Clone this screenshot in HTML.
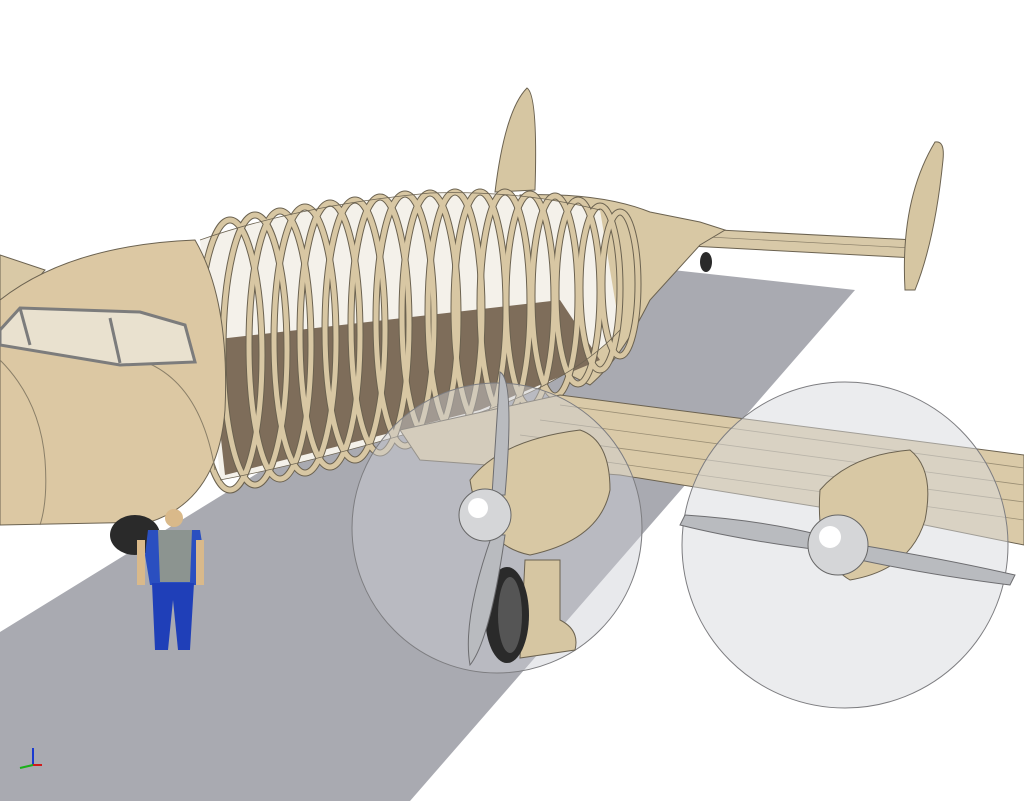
<!DOCTYPE html>
<html><head><meta charset="utf-8"><style>html,body{margin:0;padding:0;background:#fff}svg{display:block}</style></head>
<body>
<svg width="1024" height="801" viewBox="0 0 1024 801" xmlns="http://www.w3.org/2000/svg">
<defs>
<g id="ribs">
<ellipse cx="230" cy="355" rx="32" ry="135"/>
<ellipse cx="255" cy="350" rx="32" ry="135"/>
<ellipse cx="280" cy="345" rx="31" ry="134"/>
<ellipse cx="305" cy="340" rx="31" ry="133"/>
<ellipse cx="330" cy="335" rx="30" ry="132"/>
<ellipse cx="355" cy="330" rx="30" ry="130"/>
<ellipse cx="380" cy="325" rx="29" ry="128"/>
<ellipse cx="405" cy="320" rx="29" ry="126"/>
<ellipse cx="430" cy="316" rx="28" ry="123"/>
<ellipse cx="455" cy="312" rx="27" ry="120"/>
<ellipse cx="480" cy="308" rx="26" ry="116"/>
<ellipse cx="505" cy="304" rx="25" ry="112"/>
<ellipse cx="530" cy="300" rx="24" ry="106"/>
<ellipse cx="555" cy="296" rx="23" ry="100"/>
<ellipse cx="578" cy="292" rx="22" ry="92"/>
<ellipse cx="600" cy="288" rx="20" ry="82"/>
<ellipse cx="620" cy="284" rx="18" ry="72"/>
</g>
</defs>
<polygon points="600,262 855,290 410,801 0,801 0,632" fill="#a9aab1"/>
<polygon points="680,228 915,240 915,258 690,246" fill="#d8c9a8" stroke="#6b6250" stroke-width="1"/>
<line x1="690" y1="236" x2="912" y2="248" stroke="#8a7f68" stroke-width="0.7"/>
<path d="M905,290 Q900,200 935,142 Q945,140 943,160 Q935,240 915,290 Z" fill="#d6c6a2" stroke="#6b6250"/>
<ellipse cx="706" cy="262" rx="6" ry="10" fill="#2a2a2a"/>
<path d="M495,192 Q505,110 527,88 Q538,95 535,190 Z" fill="#d6c6a2" stroke="#6b6250"/>
<path d="M520,195 Q600,192 650,212 L700,222 L725,230 L700,245 L650,300 Q620,360 590,385 L540,360 Z" fill="#d8c8a4" stroke="#6b6250" stroke-width="1"/>
<polygon points="0,255 45,270 20,300 0,310" fill="#d9c9a6" stroke="#6b6250"/>
<path d="M200,240 Q300,205 430,193 Q520,190 600,210 L620,330 Q560,395 420,430 Q300,465 220,480 Z" fill="#f4f1ea"/>
<polygon points="210,340 560,300 600,360 480,410 225,475" fill="#7e6d5a"/>
<use href="#ribs" fill="none" stroke="#6b6250" stroke-width="7"/>
<use href="#ribs" fill="none" stroke="#d8c7a3" stroke-width="5"/>
<g fill="none" stroke="#6b6250" stroke-width="0.8">
<path d="M200,240 Q300,205 430,193 Q520,190 600,210"/>
<path d="M220,480 Q300,465 420,430 Q560,395 620,330"/>
</g>
<path d="M0,300 Q70,245 195,240 Q230,300 225,410 Q218,500 150,522 L0,525 Z" fill="#dcc8a3" stroke="#6b6250"/>
<path d="M0,360 Q40,400 45,460 Q48,500 40,525" fill="none" stroke="#8a7f68"/>
<path d="M140,360 Q200,380 215,470" fill="none" stroke="#8a7f68"/>
<path d="M0,330 L20,308 L140,312 L185,325 L195,362 L120,365 L0,345 Z" fill="#e9e1cf" stroke="#7c7c7c" stroke-width="3"/>
<line x1="110" y1="318" x2="120" y2="363" stroke="#7c7c7c" stroke-width="3"/>
<line x1="20" y1="308" x2="30" y2="345" stroke="#7c7c7c" stroke-width="3"/>
<polygon points="400,430 560,395 1024,455 1024,545 900,520 620,475 420,460" fill="#dacaa8" stroke="#6b6250"/>
<g stroke="#9a8e74" stroke-width="0.8">
<line x1="560" y1="405" x2="1024" y2="468"/>
<line x1="540" y1="420" x2="1024" y2="485"/>
<line x1="520" y1="435" x2="1024" y2="502"/>
<line x1="520" y1="450" x2="1024" y2="520"/>
</g>
<circle cx="497" cy="528" r="145" fill="rgba(205,207,212,0.45)" stroke="#7d7d80"/>
<circle cx="845" cy="545" r="163" fill="rgba(215,217,222,0.5)" stroke="#7d7d80"/>
<path d="M525,560 L560,560 L560,620 Q580,630 575,650 L520,658 Z" fill="#d6c6a2" stroke="#6b6250"/>
<ellipse cx="507" cy="615" rx="22" ry="48" fill="#2a2a2a"/>
<ellipse cx="510" cy="615" rx="12" ry="38" fill="#555"/>
<path d="M470,480 Q500,440 580,430 Q610,440 610,490 Q600,540 530,555 Q480,545 470,480 Z" fill="#d8c8a4" stroke="#6b6250"/>
<path d="M820,490 Q850,455 910,450 Q935,470 925,520 Q910,570 850,580 Q815,560 820,490 Z" fill="#d8c8a4" stroke="#6b6250"/>
<path d="M500,372 Q515,380 505,495 L492,495 Z" fill="#b9bbbf" stroke="#6d6d70"/>
<path d="M492,535 L505,535 Q490,640 470,665 Q462,620 492,535 Z" fill="#b9bbbf" stroke="#6d6d70"/>
<path d="M685,515 Q760,520 820,535 L820,550 Q740,540 680,525 Z" fill="#b9bbbf" stroke="#6d6d70"/>
<path d="M860,545 Q950,560 1015,575 L1010,585 Q930,575 860,560 Z" fill="#b9bbbf" stroke="#6d6d70"/>
<circle cx="485" cy="515" r="26" fill="#d5d6d8" stroke="#666"/>
<circle cx="478" cy="508" r="10" fill="#fff"/>
<circle cx="838" cy="545" r="30" fill="#d5d6d8" stroke="#666"/>
<circle cx="830" cy="537" r="11" fill="#fff"/>
<ellipse cx="135" cy="535" rx="25" ry="20" fill="#2a2a2a"/>
<circle cx="174" cy="518" r="9" fill="#d9b98a"/>
<path d="M148,530 L200,530 L204,555 L196,585 L150,585 L145,555 Z" fill="#2a4fc0"/>
<path d="M158,530 L192,530 L190,582 L160,582 Z" fill="#8c9490"/>
<rect x="137" y="540" width="8" height="45" fill="#d9b98a"/>
<rect x="196" y="540" width="8" height="45" fill="#d9b98a"/>
<path d="M152,583 L194,583 L190,650 L178,650 L173,600 L168,650 L155,650 Z" fill="#1f3fb8"/>
<line x1="33" y1="765" x2="33" y2="748" stroke="#1a3ad0" stroke-width="2"/>
<line x1="33" y1="765" x2="42" y2="765" stroke="#d01a1a" stroke-width="2"/>
<line x1="33" y1="765" x2="20" y2="768" stroke="#1ab01a" stroke-width="2"/>
</svg>
</body></html>
